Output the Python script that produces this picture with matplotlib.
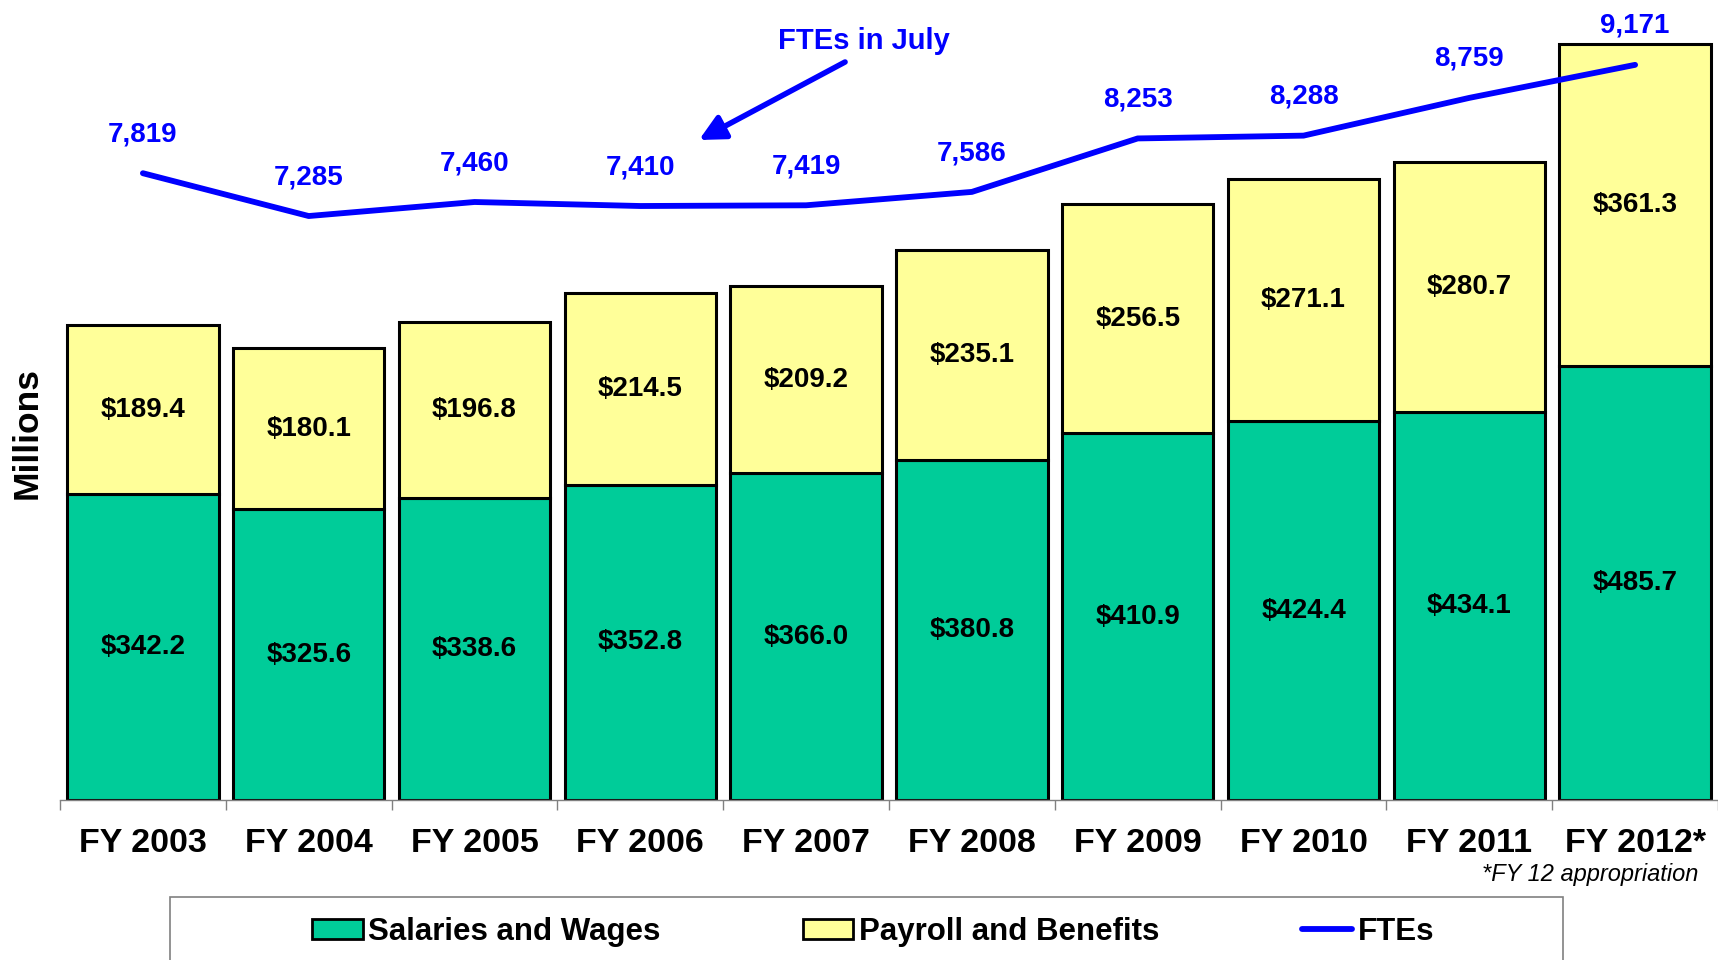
import matplotlib.pyplot as plt
import numpy as np
from matplotlib.patches import Rectangle
from matplotlib.lines import Line2D

plt.rcParams['font.family'] = ['Liberation Sans', 'DejaVu Sans']
plt.rcParams['font.weight'] = 'bold'

# Data
years = ["FY 2003", "FY 2004", "FY 2005", "FY 2006", "FY 2007",
         "FY 2008", "FY 2009", "FY 2010", "FY 2011", "FY 2012*"]
salaries = [342.2, 325.6, 338.6, 352.8, 366.0, 380.8, 410.9, 424.4, 434.1, 485.7]
payroll = [189.4, 180.1, 196.8, 214.5, 209.2, 235.1, 256.5, 271.1, 280.7, 361.3]
ftes = [7819, 7285, 7460, 7410, 7419, 7586, 8253, 8288, 8759, 9171]

green = '#00CC99'
yellow = '#FFFF99'
blue = '#0000FF'

W, H = 1718, 960
fig = plt.figure(figsize=(W / 100, H / 100), dpi=100)
ax = fig.add_axes([60 / W, 160 / H, 1658 / W, 800 / H])

x = np.arange(len(years))
bw = 0.912
ax.bar(x, salaries, bw, color=green, edgecolor='black', linewidth=2.2, zorder=2)
ax.bar(x, payroll, bw, bottom=salaries, color=yellow, edgecolor='black', linewidth=2.2, zorder=2)

# value labels centred in each segment
for i in range(len(years)):
    ax.text(x[i], salaries[i] / 2, f"${salaries[i]:.1f}", ha='center', va='center',
            fontsize=20, fontweight='bold', zorder=3)
    ax.text(x[i], salaries[i] + payroll[i] / 2, f"${payroll[i]:.1f}", ha='center', va='center',
            fontsize=20, fontweight='bold', zorder=3)

ax.set_xlim(-0.5, len(years) - 0.5)
ax.set_ylim(0, 896)
ax.set_yticks([])
ax.set_xticks(x)
ax.set_xticklabels(years, fontsize=24.5, fontweight='bold')
ax.set_xticks(np.arange(-0.5, len(years)), minor=True)
ax.tick_params(axis='x', which='major', length=0, pad=20)
ax.tick_params(axis='x', which='minor', length=7, width=1, color='#808080')
for s in ['top', 'right', 'left']:
    ax.spines[s].set_visible(False)
ax.spines['bottom'].set_color('#808080')
ax.spines['bottom'].set_linewidth(1)

# FTE line on a hidden secondary axis
ax2 = ax.twinx()
ax2.set_ylim(0, 9980)
ax2.plot(x, ftes, color=blue, linewidth=4.2, solid_capstyle='round', zorder=4)
for i, v in enumerate(ftes):
    ax2.annotate(f"{v:,}", (x[i], v), xytext=(0, 28), textcoords='offset points',
                 ha='center', va='center', color=blue, fontsize=20, fontweight='bold')
ax2.set_yticks([])
for s in ['top', 'right', 'left', 'bottom']:
    ax2.spines[s].set_visible(False)

# "FTEs in July" callout
ax2.text(0.485, 0.949, "FTEs in July", transform=ax2.transAxes, ha='center', va='center',
         color=blue, fontsize=21, fontweight='bold')
ax2.annotate('', xy=(0.3854, 0.825), xytext=(0.4735, 0.9225),
             xycoords='axes fraction', textcoords='axes fraction',
             arrowprops=dict(arrowstyle='-|>,head_length=0.7,head_width=0.35',
                             color=blue, lw=4, mutation_scale=22, shrinkA=0, shrinkB=0))

fig.text(27 / W, 1 - 433 / H, "Millions", rotation=90, ha='center', va='center',
         fontsize=25.5, fontweight='bold')
fig.text(1698 / W, 1 - 875 / H, "*FY 12 appropriation", ha='right', va='center',
         fontsize=17, fontstyle='italic', fontweight='normal')

# legend box (runs off the bottom edge)
fig.patches.append(Rectangle((170 / W, -0.05), 1393 / W, (H - 897) / H + 0.05,
                             transform=fig.transFigure, facecolor='white',
                             edgecolor='#808080', linewidth=1.2, zorder=0))
handles = [Rectangle((0, 0), 1, 1, facecolor=green, edgecolor='black', linewidth=2),
           Rectangle((0, 0), 1, 1, facecolor=yellow, edgecolor='black', linewidth=2),
           Line2D([0], [0], color=blue, linewidth=4.2, solid_capstyle='round')]
fig.legend(handles, ["Salaries and Wages", "Payroll and Benefits", "FTEs"],
           loc='center left', bbox_to_anchor=(312 / W, 1 - 932 / H), ncol=3,
           frameon=False, borderpad=0, borderaxespad=0,
           prop={'size': 22.5, 'weight': 'bold'},
           handlelength=1.62, handleheight=0.64, handletextpad=0.18, columnspacing=4.55)

fig.savefig('out.png', dpi=100)
